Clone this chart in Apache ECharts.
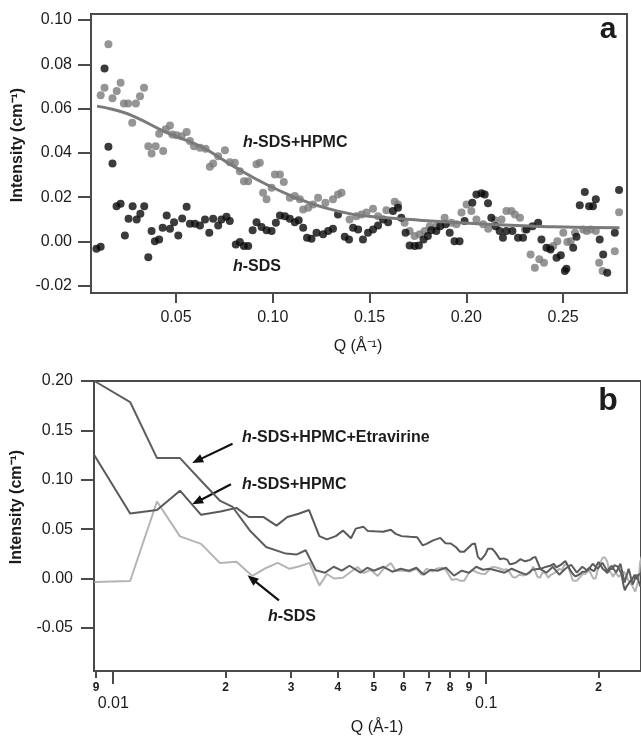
<!DOCTYPE html>
<html>
<head>
<meta charset="utf-8">
<script src="https://cdn.jsdelivr.net/npm/echarts@6/dist/echarts.min.js"></script>
<style>
html,body{margin:0;padding:0;background:#fff;}
#c{width:641px;height:737px;}
</style>
</head>
<body>
<div id="c"></div>
<script>
// ---------- DATA ----------
// Panel a: h-SDS (black points) [Q, I]
const hsdsPoints = [[0.0089,-0.0033],[0.0111,-0.0024],[0.0131,0.0781],[0.0151,0.0428],[0.0172,0.0352],[0.0193,0.0159],[0.0214,0.0170],[0.0236,0.0027],[0.0255,0.0102],[0.0276,0.0159],[0.0297,0.0099],[0.0316,0.0125],[0.0336,0.0159],[0.0357,-0.0071],[0.0374,0.0047],[0.0391,0.0001],[0.0413,0.0009],[0.0431,0.0062],[0.0452,0.0117],[0.0469,0.0057],[0.0490,0.0087],[0.0512,0.0027],[0.0532,0.0104],[0.0555,0.0157],[0.0572,0.0080],[0.0598,0.0080],[0.0624,0.0072],[0.0650,0.0099],[0.0672,0.0039],[0.0692,0.0102],[0.0718,0.0072],[0.0735,0.0099],[0.0761,0.0111],[0.0778,0.0092],[0.0809,-0.0014],[0.0830,-0.0003],[0.0851,-0.0021],[0.0873,-0.0021],[0.0896,0.0050],[0.0916,0.0087],[0.0942,0.0065],[0.0968,0.0050],[0.0994,0.0047],[0.1016,0.0084],[0.1037,0.0117],[0.1063,0.0114],[0.1088,0.0102],[0.1114,0.0087],[0.1134,0.0095],[0.1157,0.0062],[0.1177,0.0017],[0.1200,0.0012],[0.1226,0.0039],[0.1260,0.0032],[0.1286,0.0047],[0.1311,0.0057],[0.1337,0.0122],[0.1372,0.0021],[0.1394,0.0009],[0.1415,0.0062],[0.1441,0.0054],[0.1466,0.0009],[0.1492,0.0039],[0.1518,0.0054],[0.1544,0.0072],[0.1570,0.0099],[0.1596,0.0087],[0.1621,0.0137],[0.1647,0.0152],[0.1664,0.0107],[0.1686,0.0039],[0.1707,-0.0018],[0.1733,-0.0021],[0.1755,-0.0018],[0.1779,0.0009],[0.1801,0.0024],[0.1819,0.0050],[0.1845,0.0047],[0.1865,0.0069],[0.1893,0.0077],[0.1914,0.0039],[0.1939,0.0001],[0.1965,0.0001],[0.1991,0.0092],[0.2031,0.0175],[0.2052,0.0212],[0.2078,0.0217],[0.2095,0.0212],[0.2112,0.0172],[0.2129,0.0107],[0.2151,0.0069],[0.2172,0.0047],[0.2189,0.0017],[0.2207,0.0047],[0.2238,0.0047],[0.2267,0.0017],[0.2293,0.0017],[0.2311,0.0054],[0.2342,0.0069],[0.2371,0.0084],[0.2388,0.0009],[0.2414,-0.0029],[0.2435,-0.0036],[0.2466,-0.0074],[0.2488,-0.0063],[0.2509,-0.0134],[0.2517,-0.0123],[0.2552,-0.0029],[0.2569,0.0021],[0.2586,0.0163],[0.2612,0.0223],[0.2634,0.0159],[0.2654,0.0159],[0.2669,0.0190],[0.2689,0.0009],[0.2707,-0.0059],[0.2728,-0.0141],[0.2767,0.0039],[0.2789,0.0232]];

// Panel a: h-SDS+HPMC (grey points) [Q, I]
const hpmcPoints = [[0.0089,0.1248],[0.0111,0.0660],[0.0131,0.0694],[0.0151,0.0890],[0.0172,0.0646],[0.0194,0.0679],[0.0214,0.0716],[0.0231,0.0623],[0.0253,0.0623],[0.0274,0.0536],[0.0293,0.0623],[0.0314,0.0656],[0.0335,0.0694],[0.0357,0.0430],[0.0374,0.0397],[0.0395,0.0430],[0.0413,0.0486],[0.0434,0.0408],[0.0447,0.0506],[0.0469,0.0524],[0.0481,0.0483],[0.0503,0.0479],[0.0529,0.0475],[0.0555,0.0494],[0.0572,0.0453],[0.0593,0.0430],[0.0624,0.0423],[0.0653,0.0418],[0.0675,0.0337],[0.0692,0.0352],[0.0718,0.0385],[0.0753,0.0412],[0.0778,0.0358],[0.0804,0.0355],[0.0830,0.0317],[0.0851,0.0272],[0.0873,0.0272],[0.0916,0.0348],[0.0933,0.0355],[0.0950,0.0220],[0.0968,0.0190],[0.0994,0.0242],[0.1011,0.0302],[0.1037,0.0302],[0.1057,0.0268],[0.1088,0.0197],[0.1114,0.0205],[0.1140,0.0190],[0.1157,0.0144],[0.1183,0.0152],[0.1208,0.0167],[0.1234,0.0197],[0.1272,0.0175],[0.1311,0.0190],[0.1337,0.0212],[0.1355,0.0220],[0.1397,0.0099],[0.1432,0.0114],[0.1458,0.0122],[0.1484,0.0130],[0.1518,0.0148],[0.1544,0.0114],[0.1587,0.0141],[0.1630,0.0179],[0.1647,0.0167],[0.1681,0.0084],[0.1707,0.0047],[0.1733,0.0024],[0.1759,0.0032],[0.1785,0.0047],[0.1811,0.0069],[0.1845,0.0069],[0.1888,0.0107],[0.1923,0.0084],[0.1949,0.0077],[0.1975,0.0130],[0.2001,0.0167],[0.2026,0.0137],[0.2052,0.0099],[0.2087,0.0077],[0.2113,0.0057],[0.2147,0.0096],[0.2182,0.0099],[0.2207,0.0137],[0.2233,0.0137],[0.2251,0.0122],[0.2277,0.0107],[0.2303,0.0054],[0.2332,-0.0059],[0.2354,-0.0119],[0.2377,-0.0081],[0.2401,-0.0096],[0.2432,-0.0029],[0.2449,-0.0021],[0.2470,0.0001],[0.2501,0.0039],[0.2522,-0.0003],[0.2539,0.0001],[0.2561,0.0039],[0.2604,0.0054],[0.2622,0.0047],[0.2642,0.0054],[0.2669,0.0047],[0.2686,-0.0096],[0.2704,-0.0134],[0.2767,-0.0044],[0.2789,0.0132]];

// Panel a: fitted curve for h-SDS+HPMC [Q, I]
const fitPoints = [[0.0092,0.0611],[0.0176,0.0596],[0.0279,0.0566],[0.0452,0.0491],[0.0624,0.0430],[0.0796,0.0340],[0.0968,0.0257],[0.1140,0.0190],[0.1243,0.0159],[0.1415,0.0122],[0.1587,0.0107],[0.1759,0.0096],[0.2103,0.0077],[0.2447,0.0066],[0.2791,0.0062]];

// Panel b: h-SDS+HPMC+Etravirine [Q, I]
const etraPoints = [[0.0089,0.2000],[0.0111,0.1787],[0.0131,0.1220],[0.0151,0.1220],[0.0172,0.0990],[0.0193,0.0790],[0.0209,0.0725],[0.0232,0.0490],[0.0257,0.0320],[0.0290,0.0253],[0.0310,0.0243],[0.0328,0.0287],[0.0349,0.0084],[0.037,0.006],[0.039,0.012],[0.041,0.008],[0.043,0.013],[0.046,0.006],[0.048,0.011],[0.050,0.008],[0.053,0.012],[0.056,0.007],[0.059,0.010],[0.062,0.008],[0.065,0.011],[0.068,0.004],[0.071,0.009],[0.074,0.008],[0.078,0.011],[0.082,0.003],[0.086,0.008],[0.090,0.006],[0.094,0.012],[0.098,0.009],[0.102,0.010],[0.107,0.008],[0.112,0.006],[0.117,0.010],[0.122,0.007],[0.128,0.004],[0.133,0.009],[0.139,0.010],[0.145,0.006],[0.151,0.012],[0.157,0.004],[0.163,0.010],[0.169,0.014],[0.175,0.006],[0.181,0.012],[0.187,0.008],[0.193,0.015],[0.199,0.010],[0.205,0.016],[0.211,0.008],[0.217,0.013],[0.223,0.006],[0.229,0.015],[0.235,-0.004],[0.241,0.010],[0.247,-0.006],[0.253,0.004],[0.259,-0.008]];

// Panel b annotation arrows: [tailQ, tailI, headQ, headI]
const arrowsB = [[0.02089,0.1366,0.01628,0.1170],[0.02068,0.0954,0.01628,0.0752],[0.02782,-0.0220,0.02291,0.0033]];

// Tick values
const aXTicks = [0.05, 0.10, 0.15, 0.20, 0.25];
const aYTicks = [-0.02, 0.00, 0.02, 0.04, 0.06, 0.08, 0.10];
const bYTicks = [-0.05, 0.00, 0.05, 0.10, 0.15, 0.20];
const bMinorTicks = [0.009, 0.02, 0.03, 0.04, 0.05, 0.06, 0.07, 0.08, 0.09, 0.2];
const bMajorTicks = [0.01, 0.1];

// ---------- CHART ----------
const FONT = '"Liberation Sans", Arial, Helvetica, sans-serif';
const AX = '#4a4a4a';
const TXT = '#1c1c1c';
const lg = v => Math.log10(v);
const toLog = pts => pts.map(p => [lg(p[0]), p[1]]);

const chart = echarts.init(document.getElementById('c'), null, {renderer: 'canvas'});

const yAxisCommon = (ticks, margin) => ({
  type: 'value',
  axisLine: {show: true, lineStyle: {color: AX, width: 2}},
  axisTick: {show: true, length: 13, lineStyle: {color: AX, width: 2}, customValues: ticks},
  axisLabel: {color: TXT, fontSize: 16, fontFamily: FONT, margin: margin, customValues: ticks,
              formatter: v => v.toFixed(2)},
  splitLine: {show: false}
});

const option = {
  animation: false,
  backgroundColor: '#fff',
  grid: [
    {left: 91, top: 14, width: 536, height: 279, show: true, borderColor: AX, borderWidth: 2, containLabel: false},
    {left: 94, top: 381, width: 550, height: 290, show: true, borderColor: AX, borderWidth: 2, containLabel: false}
  ],
  xAxis: [
    {
      gridIndex: 0, type: 'value', min: 0.0061, max: 0.2830,
      axisLine: {show: true, onZero: false, lineStyle: {color: AX, width: 2}},
      axisTick: {show: true, length: 10, lineStyle: {color: AX, width: 2}, customValues: aXTicks},
      axisLabel: {color: TXT, fontSize: 16, fontFamily: FONT, margin: 17, customValues: aXTicks,
                  formatter: v => v.toFixed(2)},
      splitLine: {show: false}
    },
    {
      gridIndex: 1, type: 'value', min: -2.0516, max: -2.0516 + 550 / 375, position: 'bottom',
      axisLine: {show: true, onZero: false, lineStyle: {color: AX, width: 2}},
      axisTick: {show: true, length: 7, lineStyle: {color: AX, width: 2}, customValues: bMinorTicks.map(lg)},
      axisLabel: {color: TXT, fontSize: 12, fontWeight: 'bold', fontFamily: FONT, margin: 11,
                  customValues: bMinorTicks.map(lg),
                  formatter: v => {
                    const q = Math.pow(10, v);
                    const d = Math.pow(10, Math.floor(v + 1e-9));
                    return String(Math.round(q / d));
                  }},
      splitLine: {show: false}
    },
    {
      gridIndex: 1, type: 'value', min: -2.0516, max: -2.0516 + 550 / 375, position: 'bottom', offset: 0,
      axisLine: {show: false, onZero: false},
      axisTick: {show: true, length: 13, lineStyle: {color: AX, width: 2}, customValues: bMajorTicks.map(lg)},
      axisLabel: {color: TXT, fontSize: 16, fontFamily: FONT, margin: 25,
                  customValues: bMajorTicks.map(lg),
                  formatter: v => String(+Math.pow(10, v).toPrecision(1))},
      splitLine: {show: false}
    }
  ],
  yAxis: [
    Object.assign({gridIndex: 0, min: -0.0233, max: 0.1027}, yAxisCommon(aYTicks, 19)),
    Object.assign({gridIndex: 1, min: -0.0935, max: 0.20}, yAxisCommon(bYTicks, 21))
  ],
  series: [
    {
      name: 'h-SDS+HPMC', type: 'scatter', xAxisIndex: 0, yAxisIndex: 0,
      data: hpmcPoints, symbolSize: 8, clip: true,
      itemStyle: {color: '#7b7b7b'}
    },
    {
      name: 'fit', type: 'line', xAxisIndex: 0, yAxisIndex: 0,
      data: fitPoints, smooth: true, showSymbol: false, clip: true,
      lineStyle: {color: '#7a7a7a', width: 3}
    },
    {
      name: 'h-SDS', type: 'scatter', xAxisIndex: 0, yAxisIndex: 0,
      data: hsdsPoints, symbolSize: 8, clip: true,
      itemStyle: {color: '#0a0a0a'}
    },
    {
      name: 'h-SDS b', type: 'line', xAxisIndex: 1, yAxisIndex: 1,
      data: toLog(hsdsPoints), showSymbol: false, clip: true,
      lineStyle: {color: '#b4b4b4', width: 2}
    },
    {
      name: 'h-SDS+HPMC b', type: 'line', xAxisIndex: 1, yAxisIndex: 1,
      data: toLog(hpmcPoints), showSymbol: false, clip: true,
      lineStyle: {color: '#595959', width: 2}
    },
    {
      name: 'h-SDS+HPMC+Etravirine b', type: 'line', xAxisIndex: 1, yAxisIndex: 1,
      data: toLog(etraPoints), showSymbol: false, clip: true,
      lineStyle: {color: '#5e5e5e', width: 2}
    }
  ]
};

chart.setOption(option);

// ---------- ANNOTATIONS ----------
const ann = (text, x, y, extra) => ({
  type: 'text', x: x, y: y, silent: true,
  style: Object.assign({text: text, fill: TXT, font: 'bold 16px ' + FONT, textAlign: 'left', textVerticalAlign: 'middle'}, extra || {})
});
const richLabel = (rest, x, y) => ({
  type: 'text', x: x, y: y, silent: true,
  style: {
    text: '{i|h}{b|' + rest + '}',
    textVerticalAlign: 'middle', textAlign: 'left',
    rich: {
      i: {fontStyle: 'italic', fontWeight: 'bold', fontSize: 16, fontFamily: FONT, fill: TXT},
      b: {fontWeight: 'bold', fontSize: 16, fontFamily: FONT, fill: TXT}
    }
  }
});

const arrowEls = [];
arrowsB.forEach(a => {
  const t = chart.convertToPixel({xAxisIndex: 1, yAxisIndex: 1}, [lg(a[0]), a[1]]);
  const h = chart.convertToPixel({xAxisIndex: 1, yAxisIndex: 1}, [lg(a[2]), a[3]]);
  const dx = h[0] - t[0], dy = h[1] - t[1];
  const len = Math.sqrt(dx * dx + dy * dy);
  const ux = dx / len, uy = dy / len;
  const hl = 11, hw = 4.5;
  const bx = h[0] - ux * hl, by = h[1] - uy * hl;
  arrowEls.push({type: 'line', silent: true,
    shape: {x1: t[0], y1: t[1], x2: bx + ux * 2, y2: by + uy * 2},
    style: {stroke: '#111', lineWidth: 2.2}});
  arrowEls.push({type: 'polygon', silent: true,
    shape: {points: [[h[0], h[1]], [bx - uy * hw, by + ux * hw], [bx + uy * hw, by - ux * hw]]},
    style: {fill: '#111'}});
});

chart.setOption({
  graphic: [
    {type: 'text', x: 18, y: 145, rotation: Math.PI / 2, silent: true,
     style: {text: 'Intensity (cm\u207B\u00B9)', fill: TXT, font: 'bold 16px ' + FONT, textAlign: 'center', textVerticalAlign: 'middle'}},
    {type: 'text', x: 17, y: 507, rotation: Math.PI / 2, silent: true,
     style: {text: 'Intensity (cm\u207B\u00B9)', fill: TXT, font: 'bold 16px ' + FONT, textAlign: 'center', textVerticalAlign: 'middle'}},
    ann('Q (\u00C5\u207B\u00B9)', 358, 347, {font: '16px ' + FONT, textAlign: 'center'}),
    ann('Q (\u00C5-1)', 377, 728, {font: '16px ' + FONT, textAlign: 'center'}),
    ann('a', 608, 30, {font: 'bold 30px ' + FONT, textAlign: 'center'}),
    ann('b', 608, 401, {font: 'bold 32px ' + FONT, textAlign: 'center'}),
    richLabel('-SDS+HPMC', 243, 143),
    richLabel('-SDS', 233, 267),
    richLabel('-SDS+HPMC+Etravirine', 242, 438),
    richLabel('-SDS+HPMC', 242, 485),
    richLabel('-SDS', 268, 617)
  ].concat(arrowEls)
});
</script>
</body>
</html>
